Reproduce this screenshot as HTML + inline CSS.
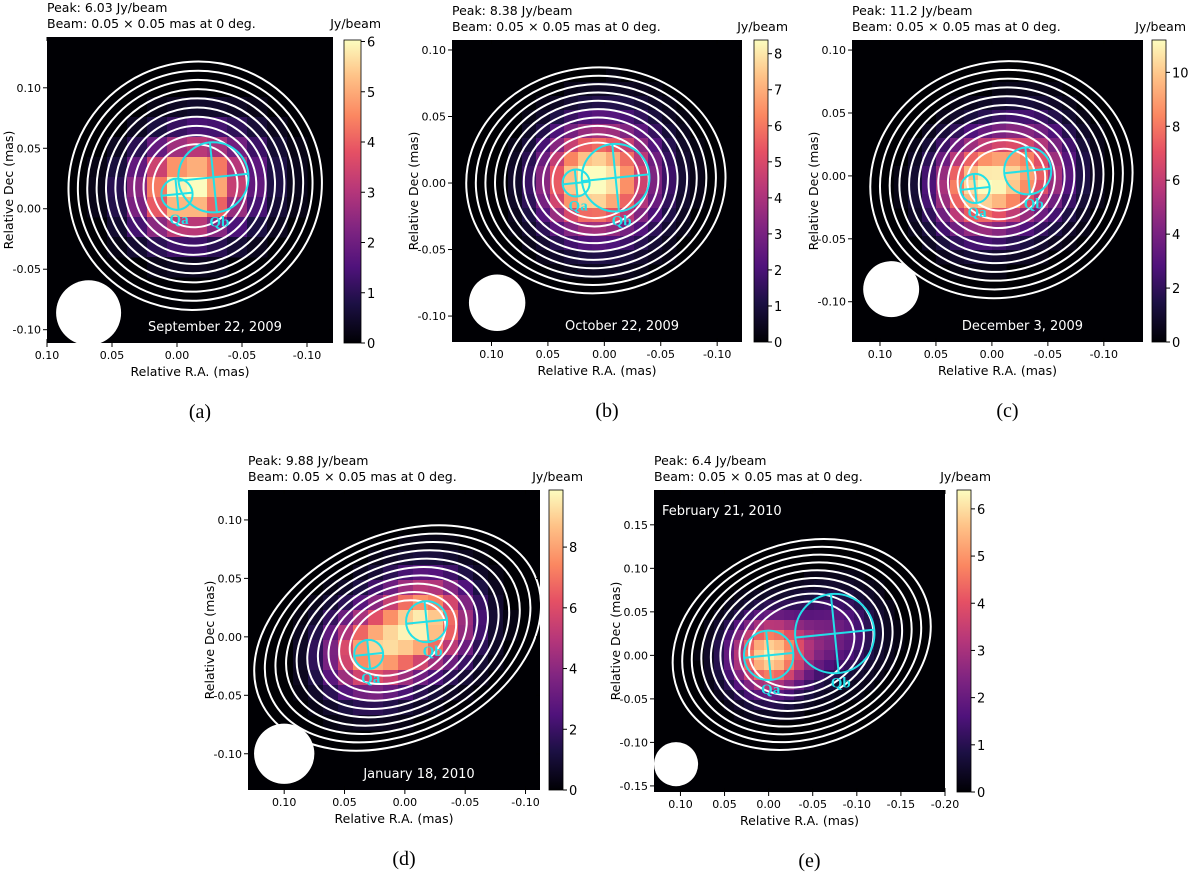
<!DOCTYPE html>
<html><head><meta charset="utf-8"><style>
html,body{margin:0;padding:0;background:#fff;}
svg text{font-family:"DejaVu Sans","Liberation Sans",sans-serif;}
</style></head><body>
<svg id="fig" width="1200" height="873" viewBox="0 0 1200 873" xmlns="http://www.w3.org/2000/svg"></svg>
<script>
// ---- data ----
const panelIds = ['a','b','c','d','e'];
const panelDates = ['September 22, 2009','October 22, 2009','December 3, 2009','January 18, 2010','February 21, 2010'];
const panelPeaks = ['6.03','8.38','11.2','9.88','6.4'];
const peakValues = [6.03,8.38,11.2,9.88,6.4];
const xTickVals = [[0.10,0.05,0.00,-0.05,-0.10],[0.10,0.05,0.00,-0.05,-0.10],[0.10,0.05,0.00,-0.05,-0.10],[0.10,0.05,0.00,-0.05,-0.10],[0.10,0.05,0.00,-0.05,-0.10,-0.15,-0.20]];
const yTickVals = [[0.10,0.05,0.00,-0.05,-0.10],[0.10,0.05,0.00,-0.05,-0.10],[0.10,0.05,0.00,-0.05,-0.10],[0.10,0.05,0.00,-0.05,-0.10],[0.15,0.10,0.05,0.00,-0.05,-0.10,-0.15]];
const cbarTicks = [[0,1,2,3,4,5,6],[0,1,2,3,4,5,6,7,8],[0,2,4,6,8,10],[0,2,4,6,8],[0,1,2,3,4,5,6]];
const xLims = [[0.10,-0.12],[0.135,-0.122],[0.125,-0.135],[0.13,-0.112],[0.13,-0.20]];
const yLims = [[0.142,-0.111],[0.1075,-0.1195],[0.108,-0.132],[0.1256,-0.131],[0.19,-0.157]];
// components: [x, y, radius, amplitude]
const compQa = [[0.00,0.012,0.012,1.0],[0.025,0.000,0.012,0.9],[0.015,-0.010,0.013,1.0],[0.030,-0.015,0.012,0.85],[0.000,0.000,0.028,1.0]];
const compQb = [[-0.028,0.026,0.027,0.75],[-0.010,0.004,0.030,1.0],[-0.032,0.004,0.021,0.8],[-0.018,0.013,0.017,1.0],[-0.075,0.025,0.045,0.35]];
const beamPos = [[0.068,-0.086],[0.095,-0.090],[0.090,-0.090],[0.100,-0.100],[0.105,-0.125]];
// contour outer semi-axes [rx, ry, angle]
const contourOuter = [[0.098,0.095,-25],[0.115,0.100,-5],[0.118,0.105,-15],[0.125,0.085,-25],[0.150,0.115,-20]];
const contourCount = [10,10,11,10,9];
// ---- layout ----
const boxes = [[47,37,333,343],[452,40,742,342],[852,40,1143,342],[248,490,540,790],[654,490,945,792]];
const cbars = [[344,40,361,343],[754,40,768,342],[1152,40,1166,342],[549,490,563,790],[957,490,971,792]];
const cellPx = [20,14,14,15,10];
const NS='http://www.w3.org/2000/svg';
const svg=document.getElementById('fig');
function el(tag,attrs,parent){const e=document.createElementNS(NS,tag);for(const k in attrs)e.setAttribute(k,attrs[k]);(parent||svg).appendChild(e);return e;}
const magma=[[0,0,0,4],[0.13,28,16,68],[0.25,79,18,123],[0.38,129,37,129],[0.5,181,54,122],[0.63,229,80,100],[0.75,251,135,97],[0.88,254,194,135],[1,252,253,191]];
function cmap(t){t=Math.max(0,Math.min(1,t));for(let i=1;i<magma.length;i++){if(t<=magma[i][0]){const a=magma[i-1],b=magma[i];const f=(t-a[0])/(b[0]-a[0]);return 'rgb('+[1,2,3].map(j=>Math.round(a[j]+(b[j]-a[j])*f)).join(',')+')';}}return 'rgb(252,253,191)';}
const defs=el('defs',{});
panelIds.forEach((id,p)=>{
  const [x0,y0,x1,y1]=boxes[p];
  const sx=v=>x0+(v-xLims[p][0])/(xLims[p][1]-xLims[p][0])*(x1-x0);
  const sy=v=>y0+(v-yLims[p][0])/(yLims[p][1]-yLims[p][0])*(y1-y0);
  const ix=X=>xLims[p][0]+(X-x0)/(x1-x0)*(xLims[p][1]-xLims[p][0]);
  const iy=Y=>yLims[p][0]+(Y-y0)/(y1-y0)*(yLims[p][1]-yLims[p][0]);
  const pxPerUnit=(x1-x0)/Math.abs(xLims[p][1]-xLims[p][0]);
  const g=el('g',{});
  
  
  const cp=el('clipPath',{id:'clip'+id},defs);el('rect',{x:x0,y:y0,width:x1-x0,height:y1-y0},cp);
  const bg=el('rect',{x:x0,y:y0,width:x1-x0,height:y1-y0,fill:'#000004'},g);
  
  
  const hm=el('g',{'clip-path':'url(#clip'+id+')'},g);
  
  
  const comps=[compQa[p],compQb[p]];
  const cs=cellPx[p];
  const field=(cx,cy)=>{let I=0;comps.forEach(c=>{const s=0.023+c[2]*0.25;const d2=(cx-c[0])**2+(cy-c[1])**2;I+=c[3]*Math.exp(-d2/(2*s*s));});return I;};
  let maxI=0;comps.forEach(c=>{maxI=Math.max(maxI,field(c[0],c[1]));});
  for(let X=x0;X<x1;X+=cs){
    for(let Y=y0;Y<y1;Y+=cs){
      const I=field(ix(X+cs/2),iy(Y+cs/2))/maxI;
      if(I<0.03)continue;
      el('rect',{x:X,y:Y,width:cs+0.5,height:cs+0.5,fill:cmap(I*0.97),'shape-rendering':'crispEdges'},hm);
    }
  }
  // contours
  const cg=el('g',{'clip-path':'url(#clip'+id+')',fill:'none',stroke:'#fff','stroke-width':2},g);
  
  
  const cxm=(compQa[p][0]+compQb[p][0])/2,cym=(compQa[p][1]+compQb[p][1])/2;
  const [orx,ory,ang]=contourOuter[p];const n=contourCount[p];
  for(let k=0;k<n;k++){
    const f=1-k*0.074;
    const rx=orx*f,ry=ory*f;
    const e=el('ellipse',{cx:sx(cxm),cy:sy(cym),rx:rx*pxPerUnit,ry:ry*pxPerUnit,transform:'rotate('+ang+' '+sx(cxm)+' '+sy(cym)+')'},cg);
    
    
  }
  // components
  [['Qa',compQa[p]],['Qb',compQb[p]]].forEach(([nm,c])=>{
    const cx=sx(c[0]),cy=sy(c[1]),r=c[2]*pxPerUnit;
    const cg2=el('g',{stroke:'#22e0e8','stroke-width':2,fill:'none'},g);
    
    
    el('circle',{cx:cx,cy:cy,r:r},cg2);
    el('line',{x1:cx-r,y1:cy+r*0.1,x2:cx+r,y2:cy-r*0.1},cg2);
    el('line',{x1:cx-r*0.1,y1:cy-r,x2:cx+r*0.1,y2:cy+r},cg2);
    const t=el('text',{x:cx+(nm==='Qa'?2:6),y:cy+r+14,fill:'#22e0e8','font-size':15,'font-weight':'bold','text-anchor':'middle',style:'font-family:"Liberation Serif",serif'},g);
    t.textContent=nm;
    
    
  });
  // beam
  const bm=el('circle',{cx:sx(beamPos[p][0]),cy:sy(beamPos[p][1]),r:0.025*pxPerUnit,fill:'#fff','clip-path':'url(#clip'+id+')'},g);
  
  
  // date
  const dt=el('text',{x:p===4?x0+8:(x0+x1)/2+25,y:p===4?y0+25:y1-12,fill:'#fff','font-size':13,'text-anchor':p===4?'start':'middle'},g);
  dt.textContent=panelDates[p];
  
  
  // ticks
  xTickVals[p].forEach(v=>{
    const X=sx(v);
    el('line',{x1:X,y1:y1,x2:X,y2:y1+4,stroke:'#000'},g);
    el('line',{x1:X,y1:y0,x2:X,y2:y0+4,stroke:'#000'},g);
    el('line',{x1:X,y1:y1,x2:X,y2:y1-4,stroke:'#000'},g);
    const t=el('text',{x:X,y:y1+16,'font-size':11,'text-anchor':'middle'},g);
    t.textContent=v.toFixed(2);
    
    
  });
  yTickVals[p].forEach(v=>{
    const Y=sy(v);
    el('line',{x1:x0-4,y1:Y,x2:x0,y2:Y,stroke:'#000'},g);
    el('line',{x1:x1-4,y1:Y,x2:x1,y2:Y,stroke:'#000'},g);
    const t=el('text',{x:x0-6,y:Y+4,'font-size':11,'text-anchor':'end'},g);
    t.textContent=v.toFixed(2);
    
    
  });
  const xl=el('text',{x:(x0+x1)/2,y:y1+33,'font-size':12.5,'text-anchor':'middle'},g);
  xl.textContent='Relative R.A. (mas)';
  
  
  const yl=el('text',{x:0,y:0,'font-size':12.5,'text-anchor':'middle',transform:'translate('+(x0-34)+','+((y0+y1)/2)+') rotate(-90)'},g);
  yl.textContent='Relative Dec (mas)';
  
  
  const t1=el('text',{x:x0,y:y0-25,'font-size':12.5},g);
  t1.textContent='Peak: '+panelPeaks[p]+' Jy/beam';
  
  
  const t2=el('text',{x:x0,y:y0-9,'font-size':12.5},g);
  t2.textContent='Beam: 0.05 \u00d7 0.05 mas at 0 deg.';
  
  
  // colorbar
  const [c0,cy0,c1,cy1]=cbars[p];
  const lg=el('linearGradient',{id:'cg'+id,x1:0,y1:1,x2:0,y2:0},defs);
  magma.forEach(m=>el('stop',{offset:m[0],'stop-color':'rgb('+m[1]+','+m[2]+','+m[3]+')'},lg));
  const cb=el('rect',{x:c0,y:cy0,width:c1-c0,height:cy1-cy0,fill:'url(#cg'+id+')',stroke:'#000','stroke-width':0.8},g);
  
  
  const cby=v=>cy1-(v/peakValues[p])*(cy1-cy0);
  cbarTicks[p].forEach(v=>{
    const Y=cby(v);
    el('line',{x1:c1,y1:Y,x2:c1+4,y2:Y,stroke:'#000'},g);
    const t=el('text',{x:c1+6,y:Y+5,'font-size':13},g);
    t.textContent=v;
    
    
  });
  const ju=el('text',{x:c1+20,y:y0-9,'font-size':12.5,'text-anchor':'end'},g);
  ju.textContent='Jy/beam';
  
  
  const pl=el('text',{x:(x0+x1)/2+10,y:y1+75,'font-size':20,'text-anchor':'middle',style:'font-family:"Liberation Serif",serif'},g);
  pl.textContent='('+id+')';
  
  
});
</script>
</body></html>
